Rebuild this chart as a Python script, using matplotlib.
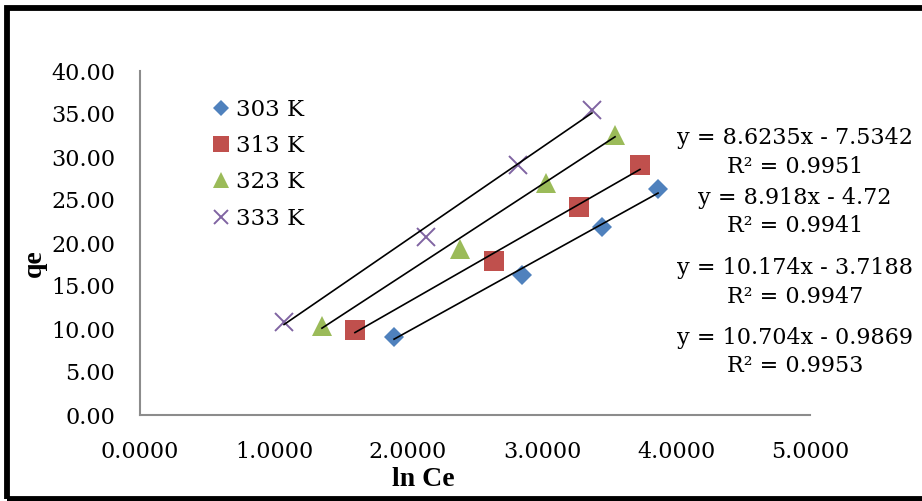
import matplotlib
matplotlib.use("Agg")
import matplotlib.pyplot as plt
from matplotlib.patches import Rectangle
import numpy as np

# ln Ce / qe readings for each temperature
labels = ["303 K", "313 K", "323 K", "333 K"]
lnce_303 = [1.896, 2.851, 3.448, 3.866]
qe_303 = [9.07, 16.28, 21.86, 26.28]
lnce_313 = [1.604, 2.642, 3.276, 3.731]
qe_313 = [9.88, 17.90, 24.19, 29.07]
lnce_323 = [1.358, 2.388, 3.030, 3.545]
qe_323 = [10.35, 19.30, 26.98, 32.56]
lnce_333 = [1.075, 2.134, 2.821, 3.373]
qe_333 = [10.81, 20.70, 29.07, 35.47]

# linear trendlines (slope, intercept, R^2)
slopes = [8.6235, 8.918, 10.174, 10.704]
intercepts = [-7.5342, -4.72, -3.7188, -0.9869]
r2 = [0.9951, 0.9941, 0.9947, 0.9953]

xs = [lnce_303, lnce_313, lnce_323, lnce_333]
ys = [qe_303, qe_313, qe_323, qe_333]
colors = ["#4F81BD", "#C0504D", "#9BBB59", "#8064A2"]
markers = ["D", "s", "^", "x"]
msizes = [10.5, 14, 14, 13]

W, H = 922, 501
fig = plt.figure(figsize=(W / 100, H / 100), dpi=100)
ax = fig.add_axes([140 / W, 1 - 415 / H, 670 / W, 344 / H])

tick_font = {"family": "DejaVu Serif", "size": 16}

for x, y, c, m, ms, lab in zip(xs, ys, colors, markers, msizes, labels):
    if m == "x":
        ax.plot(x, y, linestyle="none", marker=m, markersize=ms, color=c,
                markeredgewidth=1.4, label=lab, zorder=3)
    else:
        ax.plot(x, y, linestyle="none", marker=m, markersize=ms, color=c,
                markeredgewidth=0, label=lab, zorder=3)

for x, k, b in zip(xs, slopes, intercepts):
    xl = np.array([min(x), max(x)])
    ax.plot(xl, k * xl + b, color="black", lw=1.2, zorder=4)

ax.set_xlim(0, 5)
ax.set_ylim(0, 40)
ax.set_xticks(np.arange(0, 5.01, 1))
ax.set_yticks(np.arange(0, 40.01, 5))
ax.set_xticklabels([f"{v:.4f}" for v in np.arange(0, 5.01, 1)], fontdict=tick_font)
ax.set_yticklabels([f"{v:.2f}" for v in np.arange(0, 40.01, 5)], fontdict=tick_font)
ax.tick_params(axis="y", length=0, pad=18)
ax.tick_params(axis="x", length=0, pad=19)
for side in ["top", "right"]:
    ax.spines[side].set_visible(False)
for side in ["left", "bottom"]:
    ax.spines[side].set_color("#8c8c8c")
    ax.spines[side].set_linewidth(1.5)

# equation labels, right hand side
eq_y = [30.5, 23.6, 15.4, 7.3]
for k, b, r, yy in zip(slopes, intercepts, r2, eq_y):
    sign = "-" if b < 0 else "+"
    txt = f"y = {k:g}x {sign} {abs(b):g}\nR² = {r:.4f}"
    ax.text(4.888, yy, txt, ha="center", va="center", multialignment="center",
            linespacing=1.38, clip_on=False, **tick_font)

leg = ax.legend(loc="upper left", bbox_to_anchor=(211 / W, 1 - 99 / H),
                bbox_transform=fig.transFigure, frameon=False,
                prop={"family": "DejaVu Serif", "size": 16.5},
                handlelength=0.9, handletextpad=0.2, labelspacing=0.62,
                borderpad=0, borderaxespad=0, markerscale=0.8)

fig.text(423 / W, 1 - 480 / H, "ln Ce", ha="center", va="center",
         family="Liberation Serif", weight="bold", fontsize=20)
fig.text(34 / W, 1 - 263 / H, "qe", ha="center", va="center", rotation=90,
         family="Liberation Serif", weight="bold", fontsize=20)

# outer chart frame
fig.add_artist(Rectangle((7 / W, 2 / H), (940 - 7) / W, (493 - 2) / H,
                         transform=fig.transFigure, fill=False,
                         edgecolor="black", linewidth=4.2))

fig.savefig("out.png", dpi=100)
